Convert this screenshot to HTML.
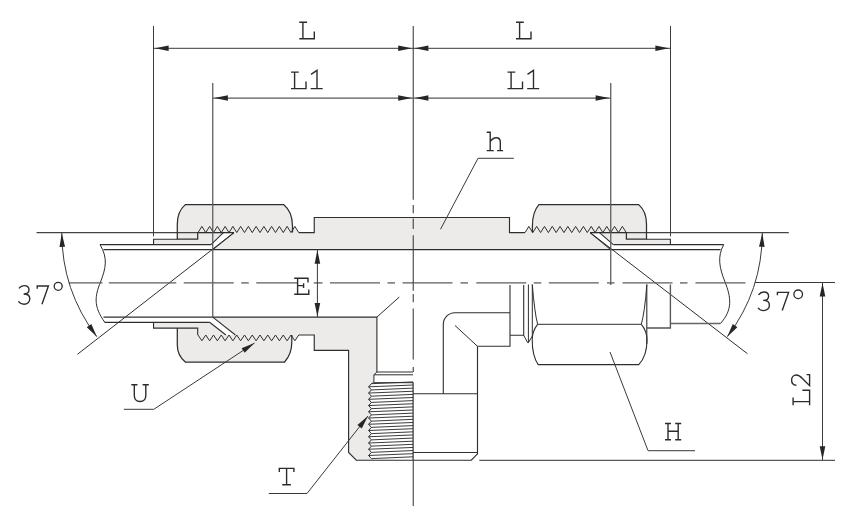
<!DOCTYPE html>
<html><head><meta charset="utf-8"><title>Tee fitting drawing</title>
<style>
html,body{margin:0;padding:0;background:#ffffff;}
body{width:861px;height:528px;overflow:hidden;font-family:"Liberation Sans",sans-serif;}
svg{display:block;}
</style></head><body>
<svg width="861" height="528" viewBox="0 0 861 528">
<polygon points="212.75,249.60 234.00,232.60 236.75,232.60 240.62,226.40 244.50,232.60 248.38,226.40 252.25,232.60 256.12,226.40 260.00,232.60 263.88,226.40 267.75,232.60 271.62,226.40 275.50,232.60 279.38,226.40 283.25,232.60 287.12,226.40 291.00,232.60 294.88,226.40 298.75,232.60 314.25,232.60 314.25,217.50 509.50,217.50 509.50,232.60 525.00,232.60 528.89,226.40 532.79,232.60 536.68,226.40 540.58,232.60 544.47,226.40 548.37,232.60 552.26,226.40 556.15,232.60 560.05,226.40 563.94,232.60 567.84,226.40 571.73,232.60 575.62,226.40 579.52,232.60 583.41,226.40 587.31,232.60 590.10,232.60 610.80,249.60" fill="#edebea" stroke="none"/>
<path d="M177.3,239.2 L177.3,224 Q177.3,211.5 185.3,204.6 L283.6,204.6 Q292.5,212 292.5,226 L292.5,232.6 L197.7,232.6 L197.7,239.2 Z" fill="#edebea" stroke="none"/>
<polygon points="153.55,239.20 197.70,239.20 197.70,232.60 223.40,232.60 211.00,244.60 153.55,244.60" fill="#edebea" stroke="none"/>
<path d="M646.5,239.2 L646.5,224 Q646.5,211.5 638.7,204.6 L538.9,204.6 Q532.4,212 532.4,226 L532.4,232.6 L626.4,232.6 L626.4,239.2 Z" fill="#edebea" stroke="none"/>
<polygon points="670.40,239.20 626.40,239.20 626.40,232.60 599.50,232.60 613.30,244.60 670.40,244.60" fill="#edebea" stroke="none"/>
<polygon points="212.75,317.10 235.40,335.00 236.75,335.00 240.62,340.80 244.50,335.00 248.38,340.80 252.25,335.00 256.12,340.80 260.00,335.00 263.88,340.80 267.75,335.00 271.62,340.80 275.50,335.00 279.38,340.80 283.25,335.00 287.12,340.80 291.00,335.00 294.88,340.80 298.75,335.00 314.25,335.00 314.25,350.40 348.50,350.40 348.50,452.40 356.30,460.20 373.00,460.20 373.00,382.60 373.90,382.60 373.90,374.80 376.90,372.00 376.90,317.10" fill="#edebea" stroke="none"/>
<path d="M177.3,328.1 L177.3,345 Q177.3,355.5 185.3,362.0 L284.6,362.0 Q291.8,354 291.8,342 L291.8,335.0 L197.7,335.0 L197.7,328.1 Z" fill="#edebea" stroke="none"/>
<polygon points="198.00,335.00 201.88,340.80 205.75,335.00 209.62,340.80 213.50,335.00 217.38,340.80 221.25,335.00 225.12,340.80 229.00,335.00 232.88,340.80 236.75,335.00 240.62,340.80 244.50,335.00 248.38,340.80 252.25,335.00 256.12,340.80 260.00,335.00 263.88,340.80 267.75,335.00 271.62,340.80 275.50,335.00 279.38,340.80 283.25,335.00 287.12,340.80 291.00,335.00 294.88,340.80 298.75,335.00 298.75,335.00" fill="#edebea" stroke="none"/>
<polygon points="153.55,328.10 197.70,328.10 197.70,335.00 225.90,335.00 209.60,322.30 153.55,322.30" fill="#edebea" stroke="none"/>
<polygon points="370.50,382.70 413.20,382.70 413.20,459.10 370.50,459.10" fill="#ffffff" stroke="none"/>
<line x1="371.40" y1="383.70" x2="413.00" y2="381.90" stroke="#303030" stroke-width="0.95" />
<line x1="368.60" y1="386.82" x2="413.00" y2="385.02" stroke="#303030" stroke-width="0.95" />
<line x1="371.40" y1="389.94" x2="413.00" y2="388.14" stroke="#303030" stroke-width="0.95" />
<line x1="368.60" y1="393.06" x2="413.00" y2="391.26" stroke="#303030" stroke-width="0.95" />
<line x1="371.40" y1="396.18" x2="413.00" y2="394.38" stroke="#303030" stroke-width="0.95" />
<line x1="368.60" y1="399.30" x2="413.00" y2="397.50" stroke="#303030" stroke-width="0.95" />
<line x1="371.40" y1="402.43" x2="413.00" y2="400.62" stroke="#303030" stroke-width="0.95" />
<line x1="368.60" y1="405.55" x2="413.00" y2="403.75" stroke="#303030" stroke-width="0.95" />
<line x1="371.40" y1="408.67" x2="413.00" y2="406.87" stroke="#303030" stroke-width="0.95" />
<line x1="368.60" y1="411.79" x2="413.00" y2="409.99" stroke="#303030" stroke-width="0.95" />
<line x1="371.40" y1="414.91" x2="413.00" y2="413.11" stroke="#303030" stroke-width="0.95" />
<line x1="368.60" y1="418.03" x2="413.00" y2="416.23" stroke="#303030" stroke-width="0.95" />
<line x1="371.40" y1="421.15" x2="413.00" y2="419.35" stroke="#303030" stroke-width="0.95" />
<line x1="368.60" y1="424.27" x2="413.00" y2="422.47" stroke="#303030" stroke-width="0.95" />
<line x1="371.40" y1="427.39" x2="413.00" y2="425.59" stroke="#303030" stroke-width="0.95" />
<line x1="368.60" y1="430.51" x2="413.00" y2="428.71" stroke="#303030" stroke-width="0.95" />
<line x1="371.40" y1="433.63" x2="413.00" y2="431.83" stroke="#303030" stroke-width="0.95" />
<line x1="368.60" y1="436.75" x2="413.00" y2="434.95" stroke="#303030" stroke-width="0.95" />
<line x1="371.40" y1="439.88" x2="413.00" y2="438.07" stroke="#303030" stroke-width="0.95" />
<line x1="368.60" y1="443.00" x2="413.00" y2="441.20" stroke="#303030" stroke-width="0.95" />
<line x1="371.40" y1="446.12" x2="413.00" y2="444.32" stroke="#303030" stroke-width="0.95" />
<line x1="368.60" y1="449.24" x2="413.00" y2="447.44" stroke="#303030" stroke-width="0.95" />
<line x1="371.40" y1="452.36" x2="413.00" y2="450.56" stroke="#303030" stroke-width="0.95" />
<line x1="368.60" y1="455.48" x2="413.00" y2="453.68" stroke="#303030" stroke-width="0.95" />
<line x1="371.40" y1="458.60" x2="413.00" y2="456.80" stroke="#303030" stroke-width="0.95" />
<path d="M373.60,382.70 L371.40,383.70 L368.60,386.82 L371.40,389.94 L368.60,393.06 L371.40,396.18 L368.60,399.30 L371.40,402.43 L368.60,405.55 L371.40,408.67 L368.60,411.79 L371.40,414.91 L368.60,418.03 L371.40,421.15 L368.60,424.27 L371.40,427.39 L368.60,430.51 L371.40,433.63 L368.60,436.75 L371.40,439.88 L368.60,443.00 L371.40,446.12 L368.60,449.24 L371.40,452.36 L368.60,455.48 L371.40,458.60" stroke="#2e2e2e" stroke-width="1.0" fill="none" />
<line x1="413.10" y1="382.20" x2="413.10" y2="460.20" stroke="#2e2e2e" stroke-width="1.2" />
<line x1="36.50" y1="232.60" x2="234.00" y2="232.60" stroke="#444" stroke-width="1.25" />
<line x1="590.10" y1="232.60" x2="788.80" y2="232.60" stroke="#444" stroke-width="1.25" />
<line x1="234.00" y1="232.60" x2="77.50" y2="354.25" stroke="#2e2e2e" stroke-width="1.0" />
<line x1="590.10" y1="232.60" x2="747.50" y2="353.75" stroke="#2e2e2e" stroke-width="1.0" />
<line x1="100.00" y1="244.60" x2="211.00" y2="244.60" stroke="#2e2e2e" stroke-width="1.25" />
<line x1="103.50" y1="249.60" x2="212.75" y2="249.60" stroke="#2e2e2e" stroke-width="1.1" />
<line x1="103.50" y1="317.10" x2="212.75" y2="317.10" stroke="#2e2e2e" stroke-width="1.1" />
<line x1="104.50" y1="322.30" x2="209.60" y2="322.30" stroke="#2e2e2e" stroke-width="1.25" />
<path d="M100,244.6 C108,258 106,268 100.5,282 C95,296 93,306 104.8,322.3" stroke="#2e2e2e" stroke-width="1.0" fill="none" />
<line x1="211.00" y1="244.60" x2="223.40" y2="232.60" stroke="#2e2e2e" stroke-width="1.1" />
<line x1="212.75" y1="249.60" x2="234.00" y2="232.60" stroke="#2e2e2e" stroke-width="1.1" />
<line x1="209.60" y1="322.30" x2="225.90" y2="335.00" stroke="#2e2e2e" stroke-width="1.1" />
<line x1="212.75" y1="317.10" x2="235.40" y2="335.00" stroke="#2e2e2e" stroke-width="1.1" />
<path d="M177.3,239.2 L153.55,239.2 L153.55,244.6" stroke="#2e2e2e" stroke-width="1.1" fill="none" />
<path d="M153.55,322.3 L153.55,328.1 L197.7,328.1 L197.7,335.0" stroke="#2e2e2e" stroke-width="1.1" fill="none" />
<path d="M292.5,232.6 L292.5,226 Q292.5,212 283.6,204.6 L185.3,204.6 Q177.3,211.5 177.3,224 L177.3,239.2 L197.7,239.2 L197.7,232.6" stroke="#2e2e2e" stroke-width="1.25" fill="none" />
<path d="M177.3,328.1 L177.3,345 Q177.3,355.5 185.3,362.0 L284.6,362.0 Q291.8,354 291.8,342 L291.8,335.0" stroke="#2e2e2e" stroke-width="1.25" fill="none" />
<path d="M198.00,232.60 L201.88,226.40 L205.75,232.60 L209.62,226.40 L213.50,232.60 L217.38,226.40 L221.25,232.60 L225.12,226.40 L229.00,232.60 L232.88,226.40 L236.75,232.60 L240.62,226.40 L244.50,232.60 L248.38,226.40 L252.25,232.60 L256.12,226.40 L260.00,232.60 L263.88,226.40 L267.75,232.60 L271.62,226.40 L275.50,232.60 L279.38,226.40 L283.25,232.60 L287.12,226.40 L291.00,232.60 L294.88,226.40 L298.75,232.60" stroke="#2e2e2e" stroke-width="1.0" fill="none" />
<line x1="198.00" y1="232.60" x2="234.00" y2="232.60" stroke="#2e2e2e" stroke-width="1.0" />
<path d="M198.00,335.00 L201.88,340.80 L205.75,335.00 L209.62,340.80 L213.50,335.00 L217.38,340.80 L221.25,335.00 L225.12,340.80 L229.00,335.00 L232.88,340.80 L236.75,335.00 L240.62,340.80 L244.50,335.00 L248.38,340.80 L252.25,335.00 L256.12,340.80 L260.00,335.00 L263.88,340.80 L267.75,335.00 L271.62,340.80 L275.50,335.00 L279.38,340.80 L283.25,335.00 L287.12,340.80 L291.00,335.00 L294.88,340.80 L298.75,335.00" stroke="#2e2e2e" stroke-width="1.0" fill="none" />
<path d="M298.75,232.6 L314.25,232.6 L314.25,217.5 L509.5,217.5 L509.5,232.6 L525,232.6" stroke="#2e2e2e" stroke-width="1.15" fill="none" />
<path d="M525.00,232.60 L528.89,226.40 L532.79,232.60 L536.68,226.40 L540.58,232.60 L544.47,226.40 L548.37,232.60 L552.26,226.40 L556.15,232.60 L560.05,226.40 L563.94,232.60 L567.84,226.40 L571.73,232.60 L575.62,226.40 L579.52,232.60 L583.41,226.40 L587.31,232.60 L591.20,226.40 L595.10,232.60 L598.99,226.40 L602.88,232.60 L606.78,226.40 L610.67,232.60 L614.57,226.40 L618.46,232.60 L622.36,226.40 L626.25,232.60" stroke="#2e2e2e" stroke-width="1.0" fill="none" />
<line x1="590.10" y1="232.60" x2="626.40" y2="232.60" stroke="#2e2e2e" stroke-width="1.0" />
<line x1="212.75" y1="249.60" x2="610.80" y2="249.60" stroke="#2e2e2e" stroke-width="1.1" />
<path d="M298.75,335.0 L314.25,335.0 L314.25,350.4 L348.6,350.4 L348.6,452.4 L356.3,460.2 L471.3,460.2 L477.5,453.8 L477.5,346.3" stroke="#2e2e2e" stroke-width="1.15" fill="none" />
<path d="M212.75,317.1 L376.9,317.1 L376.9,372 L413,372" stroke="#2e2e2e" stroke-width="1.1" fill="none" />
<path d="M376.9,372 L373.9,374.8 L413,374.8" stroke="#2e2e2e" stroke-width="1.0" fill="none" />
<path d="M373.9,374.8 L373.9,382.7 L413,382.7" stroke="#2e2e2e" stroke-width="1.0" fill="none" />
<line x1="376.90" y1="317.10" x2="399.30" y2="297.00" stroke="#2e2e2e" stroke-width="1.0" />
<path d="M532.4,232.6 L532.4,226 Q532.4,212 538.9,204.6 L638.7,204.6 Q646.5,211.5 646.5,224 L646.5,239.2 L626.4,239.2 L626.4,232.6" stroke="#2e2e2e" stroke-width="1.25" fill="none" />
<path d="M646.5,239.2 L670.4,239.2 L670.4,244.6" stroke="#2e2e2e" stroke-width="1.1" fill="none" />
<line x1="613.30" y1="244.60" x2="723.70" y2="244.60" stroke="#2e2e2e" stroke-width="1.25" />
<line x1="610.80" y1="249.60" x2="720.50" y2="249.60" stroke="#2e2e2e" stroke-width="1.1" />
<line x1="670.40" y1="323.60" x2="720.30" y2="323.60" stroke="#666" stroke-width="1.5" />
<path d="M723.7,244.6 C717,257 719.5,268 725,282 C731,297 733,310 720.3,323.6" stroke="#2e2e2e" stroke-width="1.0" fill="none" />
<line x1="599.50" y1="232.60" x2="613.30" y2="244.60" stroke="#2e2e2e" stroke-width="1.1" />
<line x1="590.10" y1="232.60" x2="610.80" y2="249.60" stroke="#2e2e2e" stroke-width="1.1" />
<path d="M510,285 L510,346.3 L477.5,346.3" stroke="#2e2e2e" stroke-width="1.1" fill="none" />
<path d="M510,312.7 L455,312.7 A11.7,11.7 0 0 0 443.3,324.4 L443.3,393.8" stroke="#2e2e2e" stroke-width="1.1" fill="none" />
<line x1="477.50" y1="346.30" x2="455.00" y2="325.50" stroke="#2e2e2e" stroke-width="1.0" />
<line x1="413.20" y1="393.80" x2="477.50" y2="393.80" stroke="#2e2e2e" stroke-width="1.1" />
<line x1="413.20" y1="452.50" x2="477.50" y2="452.50" stroke="#2e2e2e" stroke-width="1.0" />
<path d="M510,335.3 L523.7,335.3 L523.7,285" stroke="#2e2e2e" stroke-width="1.1" fill="none" />
<path d="M523.7,335.3 L527.6,342.6 L528.4,342.6 L528.4,284.5" stroke="#2e2e2e" stroke-width="1.0" fill="none" />
<path d="M528.4,342.6 L532.3,336 L532.3,284.5" stroke="#2e2e2e" stroke-width="1.0" fill="none" />
<path d="M532.3,284.5 Q534.5,312 537.6,324.3 L641.3,324.3 Q644.8,312 646.8,284.5" stroke="#2e2e2e" stroke-width="1.0" fill="none" />
<path d="M537.6,324.3 Q532.2,331 532.2,340 Q532.2,356 538.2,364.6 L638.8,364.6 Q647,356 647,340 Q647,331 641.3,324.3" stroke="#2e2e2e" stroke-width="1.1" fill="none" />
<line x1="646.80" y1="284.50" x2="646.80" y2="344.00" stroke="#2e2e2e" stroke-width="1.1" />
<path d="M647,328 L670.4,328 L670.4,284.5" stroke="#555" stroke-width="1.35" fill="none" />
<line x1="68.75" y1="282.90" x2="102.50" y2="282.90" stroke="#5c5c5c" stroke-width="1.3" />
<line x1="108.75" y1="282.90" x2="176.25" y2="282.90" stroke="#5c5c5c" stroke-width="1.3" />
<line x1="183.75" y1="282.90" x2="233.75" y2="282.90" stroke="#5c5c5c" stroke-width="1.3" />
<line x1="241.25" y1="282.90" x2="248.75" y2="282.90" stroke="#5c5c5c" stroke-width="1.3" />
<line x1="256.25" y1="282.90" x2="297.00" y2="282.90" stroke="#5c5c5c" stroke-width="1.3" />
<line x1="313.75" y1="282.90" x2="322.50" y2="282.90" stroke="#5c5c5c" stroke-width="1.3" />
<line x1="330.00" y1="282.90" x2="380.00" y2="282.90" stroke="#5c5c5c" stroke-width="1.3" />
<line x1="387.50" y1="282.90" x2="395.00" y2="282.90" stroke="#5c5c5c" stroke-width="1.3" />
<line x1="402.50" y1="282.90" x2="452.50" y2="282.90" stroke="#5c5c5c" stroke-width="1.3" />
<line x1="460.50" y1="282.90" x2="468.00" y2="282.90" stroke="#5c5c5c" stroke-width="1.3" />
<line x1="476.25" y1="282.90" x2="526.25" y2="282.90" stroke="#5c5c5c" stroke-width="1.3" />
<line x1="533.75" y1="282.90" x2="541.25" y2="282.90" stroke="#5c5c5c" stroke-width="1.3" />
<line x1="548.75" y1="282.90" x2="598.75" y2="282.90" stroke="#5c5c5c" stroke-width="1.3" />
<line x1="607.00" y1="282.90" x2="614.50" y2="282.90" stroke="#5c5c5c" stroke-width="1.3" />
<line x1="622.50" y1="282.90" x2="672.50" y2="282.90" stroke="#5c5c5c" stroke-width="1.3" />
<line x1="680.00" y1="282.90" x2="687.50" y2="282.90" stroke="#5c5c5c" stroke-width="1.3" />
<line x1="695.50" y1="282.90" x2="745.50" y2="282.90" stroke="#5c5c5c" stroke-width="1.3" />
<line x1="413.25" y1="26.00" x2="413.25" y2="199.80" stroke="#484848" stroke-width="1.15" />
<line x1="413.25" y1="205.00" x2="413.25" y2="213.30" stroke="#484848" stroke-width="1.15" />
<line x1="413.25" y1="218.50" x2="413.25" y2="229.00" stroke="#484848" stroke-width="1.15" />
<line x1="413.25" y1="235.20" x2="413.25" y2="290.80" stroke="#484848" stroke-width="1.15" />
<line x1="413.25" y1="294.00" x2="413.25" y2="302.30" stroke="#484848" stroke-width="1.15" />
<line x1="413.25" y1="308.50" x2="413.25" y2="359.60" stroke="#484848" stroke-width="1.15" />
<line x1="413.25" y1="366.90" x2="413.25" y2="372.00" stroke="#484848" stroke-width="1.15" />
<line x1="413.25" y1="460.00" x2="413.25" y2="506.00" stroke="#484848" stroke-width="1.15" />
<line x1="153.50" y1="26.00" x2="153.50" y2="236.40" stroke="#3a3a3a" stroke-width="1.0" />
<line x1="670.50" y1="26.00" x2="670.50" y2="236.40" stroke="#3a3a3a" stroke-width="1.0" />
<line x1="212.75" y1="83.00" x2="212.75" y2="317.10" stroke="#585858" stroke-width="1.25" />
<line x1="610.75" y1="83.00" x2="610.75" y2="285.00" stroke="#585858" stroke-width="1.25" />
<line x1="153.50" y1="48.30" x2="670.50" y2="48.30" stroke="#3a3a3a" stroke-width="1.0" />
<polygon points="155.00,48.30 168.60,45.50 168.60,51.10" fill="#262626"/>
<polygon points="411.80,48.30 398.20,51.10 398.20,45.50" fill="#262626"/>
<polygon points="414.80,48.30 428.40,45.50 428.40,51.10" fill="#262626"/>
<polygon points="669.00,48.30 655.40,51.10 655.40,45.50" fill="#262626"/>
<line x1="212.75" y1="98.00" x2="610.75" y2="98.00" stroke="#585858" stroke-width="1.25" />
<polygon points="214.30,98.00 227.90,95.20 227.90,100.80" fill="#262626"/>
<polygon points="411.80,98.00 398.20,100.80 398.20,95.20" fill="#262626"/>
<polygon points="414.80,98.00 428.40,95.20 428.40,100.80" fill="#262626"/>
<polygon points="609.20,98.00 595.60,100.80 595.60,95.20" fill="#262626"/>
<line x1="317.40" y1="249.60" x2="317.40" y2="317.10" stroke="#3a3a3a" stroke-width="1.0" />
<polygon points="317.40,250.10 320.20,263.70 314.60,263.70" fill="#262626"/>
<polygon points="317.40,316.60 314.60,303.00 320.20,303.00" fill="#262626"/>
<line x1="755.00" y1="282.50" x2="835.00" y2="282.50" stroke="#3a3a3a" stroke-width="1.0" />
<line x1="479.30" y1="460.30" x2="835.00" y2="460.30" stroke="#5a5a5a" stroke-width="1.3" />
<line x1="822.50" y1="283.00" x2="822.50" y2="460.00" stroke="#3a3a3a" stroke-width="1.0" />
<polygon points="822.50,283.00 825.30,296.60 819.70,296.60" fill="#262626"/>
<polygon points="822.50,459.80 819.70,446.20 825.30,446.20" fill="#262626"/>
<path d="M61.80,232.6 A172.2,172.2 0 0 0 96.84,336.71" stroke="#3a3a3a" stroke-width="1.0" fill="none" />
<polygon points="61.80,233.20 65.07,246.69 59.48,246.89" fill="#262626"/>
<polygon points="96.84,336.71 86.76,327.16 91.35,323.96" fill="#262626"/>
<path d="M762.30,232.6 A172.2,172.2 0 0 1 727.26,336.71" stroke="#3a3a3a" stroke-width="1.0" fill="none" />
<polygon points="762.30,233.20 764.62,246.89 759.03,246.69" fill="#262626"/>
<polygon points="727.26,336.71 732.75,323.96 737.34,327.16" fill="#262626"/>
<path d="M478,158.3 L513.8,158.3" stroke="#606060" stroke-width="1.3" fill="none" />
<line x1="478.00" y1="158.30" x2="440.50" y2="229.30" stroke="#3a3a3a" stroke-width="1.0" />
<path d="M123.8,409.3 L153.8,409.3 L254.5,343" stroke="#3a3a3a" stroke-width="1.0" fill="none" />
<polygon points="254.50,343.00 244.68,352.82 241.60,348.14" fill="#262626"/>
<path d="M268.8,493.5 L307,493.5 L368,416" stroke="#3a3a3a" stroke-width="1.0" fill="none" />
<polygon points="368.00,416.00 361.79,428.42 357.39,424.95" fill="#262626"/>
<path d="M695,450.6 L648,450.6" stroke="#606060" stroke-width="1.3" fill="none" />
<line x1="648.00" y1="450.60" x2="610.00" y2="352.00" stroke="#3a3a3a" stroke-width="1.0" />
<path d="M0,-16.5 H7.8 M3.6,-16.5 V0 M0,0 H15 V-7.2" transform="translate(299.30,38.70)" stroke="#2b2b30" stroke-width="1.38" fill="none" stroke-linecap="butt" stroke-linejoin="miter"/>
<path d="M0,-16.5 H7.8 M3.6,-16.5 V0 M0,0 H15 V-7.2" transform="translate(516.00,38.70)" stroke="#2b2b30" stroke-width="1.38" fill="none" stroke-linecap="butt" stroke-linejoin="miter"/>
<path d="M0,-16.5 H7.8 M3.6,-16.5 V0 M0,0 H15 V-7.2" transform="translate(291.00,88.60)" stroke="#2b2b30" stroke-width="1.38" fill="none" stroke-linecap="butt" stroke-linejoin="miter"/>
<path d="M0.3,-14.2 L6.3,-18.2 V0 M0,0 H12" transform="translate(310.70,88.60)" stroke="#2b2b30" stroke-width="1.38" fill="none" stroke-linecap="butt" stroke-linejoin="miter"/>
<path d="M0,-16.5 H7.8 M3.6,-16.5 V0 M0,0 H15 V-7.2" transform="translate(507.50,88.60)" stroke="#2b2b30" stroke-width="1.38" fill="none" stroke-linecap="butt" stroke-linejoin="miter"/>
<path d="M0.3,-14.2 L6.3,-18.2 V0 M0,0 H12" transform="translate(527.20,88.60)" stroke="#2b2b30" stroke-width="1.38" fill="none" stroke-linecap="butt" stroke-linejoin="miter"/>
<path d="M0,-18.3 H3.5 V0 M0,0 H7 M3.5,-9 C5.5,-11.9 8,-12.8 9.6,-12.8 C12.3,-12.8 13.6,-11.2 13.6,-8.4 V0 M10.4,0 H16.4" transform="translate(486.70,150.60)" stroke="#2b2b30" stroke-width="1.38" fill="none" stroke-linecap="butt" stroke-linejoin="miter"/>
<path d="M0,-16 H13.8 V-11.8 M3.4,-16 V0 M3.4,-8.6 H9.4 M9.4,-11 V-6.2 M0,0 H14.6 V-4.8" transform="translate(294.20,294.20)" stroke="#2b2b30" stroke-width="1.38" fill="none" stroke-linecap="butt" stroke-linejoin="miter"/>
<path d="M0,-16.5 H6.2 M11.3,-16.5 H17.5 M3,-16.5 V-6 C3,-1.8 5.4,0.3 8.75,0.3 C12.1,0.3 14.5,-1.8 14.5,-6 V-16.5" transform="translate(131.30,401.20)" stroke="#2b2b30" stroke-width="1.38" fill="none" stroke-linecap="butt" stroke-linejoin="miter"/>
<path d="M0.6,-12.6 V-16.3 H15.2 V-12.6 M7.9,-16.3 V0 M3.6,0 H12.2" transform="translate(278.70,484.70)" stroke="#2b2b30" stroke-width="1.38" fill="none" stroke-linecap="butt" stroke-linejoin="miter"/>
<path d="M0,-16.3 H6 M10.2,-16.3 H16.2 M0,0 H6 M10.2,0 H16.2 M3,-16.3 V0 M13.2,-16.3 V0 M3,-8.5 H13.2" transform="translate(665.00,439.80)" stroke="#2b2b30" stroke-width="1.38" fill="none" stroke-linecap="butt" stroke-linejoin="miter"/>
<path d="M0,-16.5 H7.8 M3.6,-16.5 V0 M0,0 H15 V-7.2" transform="translate(809.60,405.20) rotate(-90)" stroke="#2b2b30" stroke-width="1.38" fill="none" stroke-linecap="butt" stroke-linejoin="miter"/>
<path d="M0.8,-13.2 C0.8,-16.2 3,-18 5.9,-18 C8.9,-18 11,-16 11,-13.2 C11,-10.8 9.6,-9.2 7.5,-7.2 L0.3,0 H11.4 V-3" transform="translate(809.60,386.00) rotate(-90)" stroke="#2b2b30" stroke-width="1.38" fill="none" stroke-linecap="butt" stroke-linejoin="miter"/>
<path d="M0.3,-15.6 C1.8,-17.6 3.6,-18.4 5.6,-18.4 C8.6,-18.4 10.4,-16.6 10.4,-14.2 C10.4,-11.6 8.4,-10 5,-10 C8.8,-10 11.2,-8.2 11.2,-5.2 C11.2,-2 8.8,0.2 5.4,0.2 C3,0.2 1.2,-0.8 -0.2,-2.6" transform="translate(18.60,304.00)" stroke="#2b2b30" stroke-width="1.38" fill="none" stroke-linecap="butt" stroke-linejoin="miter"/>
<path d="M0.6,-15.2 V-18 H11.8 L5.4,0.2" transform="translate(36.60,304.00)" stroke="#2b2b30" stroke-width="1.38" fill="none" stroke-linecap="butt" stroke-linejoin="miter"/>
<circle cx="58.2" cy="286.3" r="4.0" fill="none" stroke="#2b2b30" stroke-width="1.3"/>
<path d="M0.3,-15.6 C1.8,-17.6 3.6,-18.4 5.6,-18.4 C8.6,-18.4 10.4,-16.6 10.4,-14.2 C10.4,-11.6 8.4,-10 5,-10 C8.8,-10 11.2,-8.2 11.2,-5.2 C11.2,-2 8.8,0.2 5.4,0.2 C3,0.2 1.2,-0.8 -0.2,-2.6" transform="translate(758.20,310.40)" stroke="#2b2b30" stroke-width="1.38" fill="none" stroke-linecap="butt" stroke-linejoin="miter"/>
<path d="M0.6,-15.2 V-18 H11.8 L5.4,0.2" transform="translate(776.80,310.40)" stroke="#2b2b30" stroke-width="1.38" fill="none" stroke-linecap="butt" stroke-linejoin="miter"/>
<circle cx="798.2" cy="294.3" r="4.3" fill="none" stroke="#2b2b30" stroke-width="1.3"/>
</svg>
</body></html>
